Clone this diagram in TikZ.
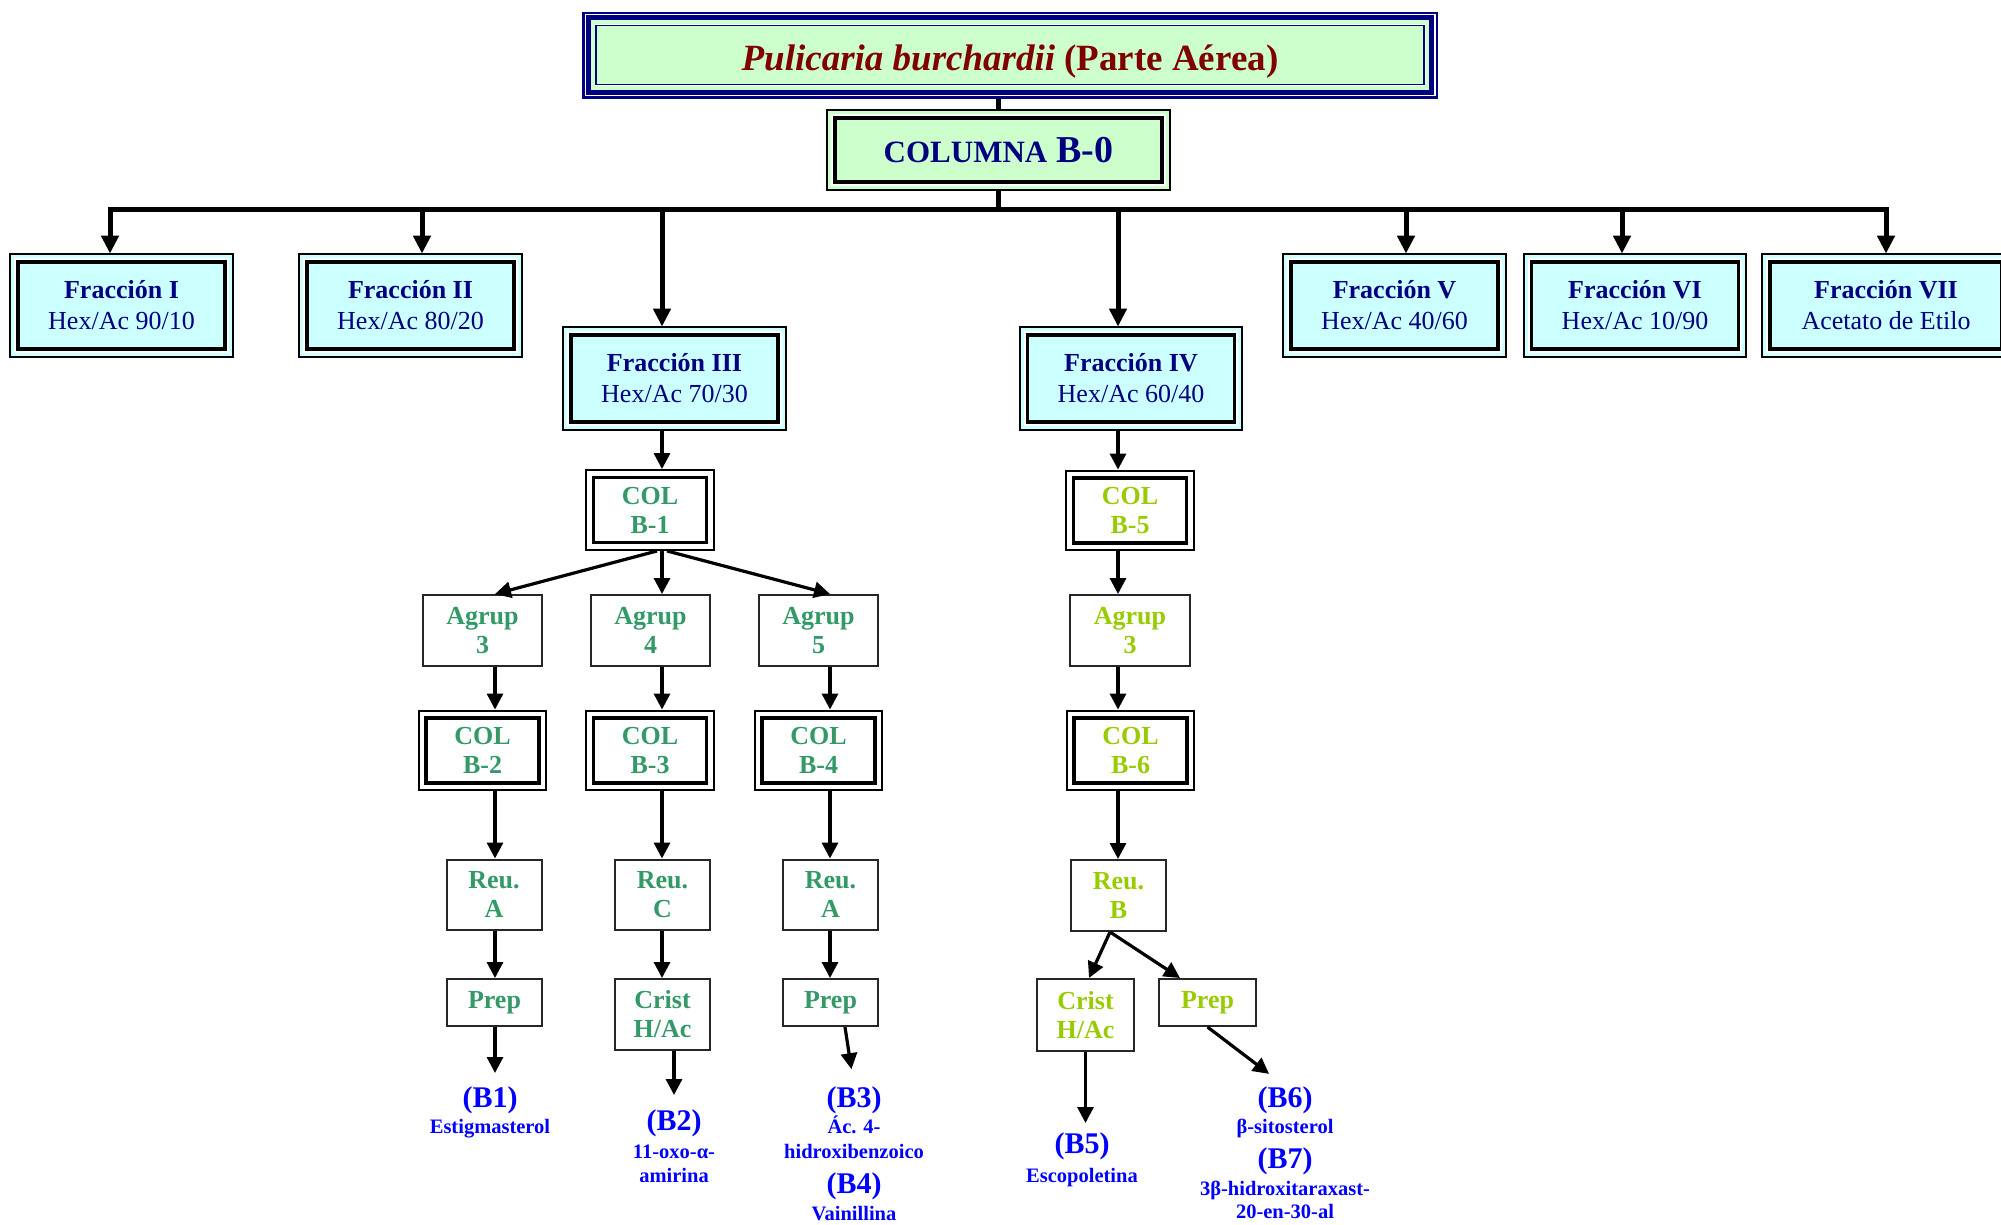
\documentclass[tikz,border=0pt]{standalone}
\usepackage{fontspec}
\setmainfont{Liberation Serif}
\usetikzlibrary{arrows.meta}
\definecolor{navyc}{HTML}{000080}
\definecolor{dred}{HTML}{800000}
\definecolor{lgreen}{HTML}{CCFFCC}
\definecolor{lcyan}{HTML}{CCFFFF}
\definecolor{sgreen}{HTML}{339966}
\definecolor{ygreen}{HTML}{99CC00}
\definecolor{lblue}{HTML}{0000FF}
\newcommand\outframe[3]{\draw[#3] ([shift={(-#2,#2)}]#1.north west) rectangle ([shift={(#2,-#2)}]#1.south east);}
\tikzset{
  sbox/.style={draw=black!85, line width=2pt, fill=white, inner sep=0pt, align=center,
    font=\bfseries\fontsize{26}{29}\selectfont},
  frac/.style={draw=black, line width=3.8pt, fill=lcyan, inner sep=0pt, align=center,
    text=navyc, minimum width=207pt, minimum height=87pt, font=\fontsize{26}{31}\selectfont},
  colb/.style={draw=black, line width=3.5pt, fill=white, inner sep=0pt, align=center,
    font=\bfseries\fontsize{26}{29}\selectfont, minimum width=113pt, minimum height=65pt},
  arr/.style={line width=3.2pt, -{Triangle[width=16pt,length=16pt]}},
  toparr/.style={line width=5pt, -{Triangle[width=17pt,length=18pt]}, shorten >=6.5pt},
  bar/.style={line width=5pt},
  lab/.style={inner sep=0pt, text=lblue, font=\bfseries\fontsize{30}{30}\selectfont, anchor=base},
  sub/.style={inner sep=0pt, text=lblue, font=\bfseries\fontsize{20.5}{20.5}\selectfont, anchor=base},
}
\begin{document}
\begin{tikzpicture}[x=1pt,y=-1pt]
\useasboundingbox (0,0) rectangle (2001,1224);
% title and column
\node[draw=navyc, line width=1.5pt, fill=lgreen, inner sep=0pt, minimum width=828pt, minimum height=59pt,
  text height=30pt, text depth=0pt,
  text=dred, font=\bfseries\fontsize{37}{40}\selectfont] (t) at (1010,55)
  {\textit{Pulicaria burchardii} (Parte Aérea)};
\node[draw=black, line width=4pt, fill=lgreen, inner sep=0pt, minimum width=327pt, minimum height=64pt,
  text=navyc, font=\bfseries] (col0) at (998.5,150)
  {\raisebox{-2pt}{{\fontsize{31}{34}\selectfont COLUMNA}\hspace{9pt}{\fontsize{38}{40}\selectfont B-0}}};
% fractions
\node[frac] (f1) at (121.5,305.5) {{\bfseries Fracción I}\\Hex/Ac 90/10};
\node[frac] (f2) at (410.5,305.5) {{\bfseries Fracción II}\\Hex/Ac 80/20};
\node[frac] (f3) at (674.5,378.5) {{\bfseries Fracción III}\\Hex/Ac 70/30};
\node[frac] (f4) at (1131,378.5) {{\bfseries Fracción IV}\\Hex/Ac 60/40};
\node[frac] (f5) at (1394.5,305.5) {{\bfseries Fracción V}\\Hex/Ac 40/60};
\node[frac] (f6) at (1635,305.5) {{\bfseries Fracción VI}\\Hex/Ac 10/90};
\node[frac, minimum width=232pt] (f7) at (1886,305.5) {{\bfseries Fracción VII}\\Acetato de Etilo};
% left branch (fraction III)
\node[colb, text=sgreen] (c1) at (650,510) {COL\\B-1};
\node[sbox, text=sgreen, minimum width=119pt, minimum height=71pt] (g3) at (482.5,630.5) {Agrup\\3};
\node[sbox, text=sgreen, minimum width=119pt, minimum height=71pt] (g4) at (650.5,630.5) {Agrup\\4};
\node[sbox, text=sgreen, minimum width=119pt, minimum height=71pt] (g5) at (818.5,630.5) {Agrup\\5};
\node[colb, text=sgreen] (cb2) at (482.5,750.5) {COL\\B-2};
\node[colb, text=sgreen] (cb3) at (650,750.5) {COL\\B-3};
\node[colb, text=sgreen] (cb4) at (818.5,750.5) {COL\\B-4};
\node[sbox, text=sgreen, minimum width=95pt, minimum height=70pt] (ra) at (494,894.5) {Reu.\\A};
\node[sbox, text=sgreen, minimum width=95pt, minimum height=70pt] (rc) at (662.5,894.5) {Reu.\\C};
\node[sbox, text=sgreen, minimum width=95pt, minimum height=70pt] (ra2) at (830.5,894.5) {Reu.\\A};
\node[sbox, text=sgreen, minimum width=95pt, minimum height=47pt] (pa) at (494.5,1002.5) {Prep};
\node[sbox, text=sgreen, minimum width=95pt, minimum height=71pt] (cr) at (662.5,1014.5) {Crist\\H/Ac};
\node[sbox, text=sgreen, minimum width=95pt, minimum height=47pt] (pa2) at (830.5,1002.5) {Prep};
% right branch (fraction IV)
\node[colb, text=ygreen] (c5) at (1130,510.5) {COL\\B-5};
\node[sbox, text=ygreen, minimum width=120pt, minimum height=71pt] (gr) at (1130,630.5) {Agrup\\3};
\node[colb, text=ygreen] (c6) at (1130.5,750.5) {COL\\B-6};
\node[sbox, text=ygreen, minimum width=95pt, minimum height=71pt] (rb) at (1118.5,895.5) {Reu.\\B};
\node[sbox, text=ygreen, minimum width=97pt, minimum height=72pt] (cr2) at (1085.5,1015) {Crist\\H/Ac};
\node[sbox, text=ygreen, minimum width=97pt, minimum height=47pt] (pr2) at (1207.5,1002.5) {Prep};
% compounds
\node[lab] (b1) at (490,1107) {(B1)};
\node[sub] (b1a) at (490,1133) {Estigmasterol};
\node[lab] (b2) at (674,1130) {(B2)};
\node[sub] (b2a) at (674,1158) {11-oxo-α-};
\node[sub] (b2b) at (674,1182) {amirina};
\node[lab] (b3) at (854,1107) {(B3)};
\node[sub] (b3a) at (854,1133) {Ác. 4-};
\node[sub] (b3b) at (854,1158) {hidroxibenzoico};
\node[lab] (b4) at (854,1193) {(B4)};
\node[sub] (b4a) at (854,1220) {Vainillina};
\node[lab] (b5) at (1082,1153) {(B5)};
\node[sub] (b5a) at (1082,1182) {Escopoletina};
\node[lab] (b6) at (1285,1107) {(B6)};
\node[sub] (b6a) at (1285,1133) {β-sitosterol};
\node[lab] (b7) at (1285,1168) {(B7)};
\node[sub] (b7a) at (1285,1195) {3β-hidroxitaraxast-};
\node[sub] (b7b) at (1285,1218) {20-en-30-al};
% coordinates
\coordinate (m) at (998.5,209);
\coordinate (a1) at (110,209);
\coordinate (a2) at (422,209);
\coordinate (a3) at (662,209);
\coordinate (a4) at (1118,209);
\coordinate (a5) at (1406,209);
\coordinate (a6) at (1622,209);
\coordinate (a7) at (1886,209);
\coordinate (xl) at (495,0);
\coordinate (xr) at (830,0);
% top connectors
\draw[bar, shorten <=13pt, shorten >=7pt] (t.south -| col0.south) -- (col0.north);
\draw[bar, shorten <=7pt] (col0.south) -- (m);
\draw[bar, line cap=rect] (a1) -- (a7);
\draw[toparr] (a1) -- (a1 |- f1.north);
\draw[toparr] (a2) -- (a2 |- f2.north);
\draw[toparr] (a3) -- (a3 |- f3.north);
\draw[toparr] (a4) -- (a4 |- f4.north);
\draw[toparr] (a5) -- (a5 |- f5.north);
\draw[toparr] (a6) -- (a6 |- f6.north);
\draw[toparr] (a7) -- (a7 |- f7.north);
% left branch connectors
\draw[arr, shorten <=7pt, shorten >=6.7pt] (f3.south -| a3) -- (c1.north -| a3);
\draw[arr] ([xshift=7pt,yshift=-6.7pt]c1.south) -- (g3.north -| xl);
\draw[arr, shorten <=6.7pt] (c1.south -| a3) -- (g4.north -| a3);
\draw[arr] ([xshift=17pt,yshift=-6.7pt]c1.south) -- (g5.north -| xr);
\draw[arr, shorten >=6.7pt] (g3.south -| xl) -- (cb2.north -| xl);
\draw[arr, shorten >=6.7pt] (g4.south -| a3) -- (cb3.north -| a3);
\draw[arr, shorten >=6.7pt] (g5.south -| xr) -- (cb4.north -| xr);
\draw[arr, shorten <=6.7pt] (cb2.south -| xl) -- (ra.north -| xl);
\draw[arr, shorten <=6.7pt] (cb3.south -| a3) -- (rc.north -| a3);
\draw[arr, shorten <=6.7pt] (cb4.south -| xr) -- (ra2.north -| xr);
\draw[arr] (ra.south -| xl) -- (pa.north -| xl);
\draw[arr] (rc.south -| a3) -- (cr.north -| a3);
\draw[arr] (ra2.south -| xr) -- (pa2.north -| xr);
\draw[arr, shorten >=13pt] (pa.south -| xl) -- (b1.north -| xl);
\draw[arr, shorten >=14pt] (cr.south -| b2) -- (b2.north);
\draw[arr, shorten >=17pt] ([xshift=14.5pt]pa2.south) -- (b3.north);
% right branch connectors
\draw[arr, shorten <=7pt, shorten >=6.7pt] (f4.south -| a4) -- (c5.north -| a4);
\draw[arr, shorten <=6.7pt] (c5.south -| a4) -- (gr.north -| a4);
\draw[arr, shorten >=6.7pt] (gr.south -| a4) -- (c6.north -| a4);
\draw[arr, shorten <=6.7pt] (c6.south -| a4) -- (rb.north -| a4);
\draw[arr] ([xshift=-8.5pt]rb.south) -- ([xshift=3.5pt]cr2.north);
\draw[arr] ([xshift=-8.5pt]rb.south) -- ([xshift=-27.5pt]pr2.north);
\draw[arr, shorten >=9pt] (cr2.south) -- (cr2.south |- b5.north);
\draw[arr, shorten >=20pt] (pr2.south) -- (b6.north);
% frames
\outframe{t}{2.75pt}{lgreen, line width=4pt}
\outframe{t}{7pt}{navyc, line width=5pt}
\outframe{t}{12pt}{navyc, line width=2.5pt}
\outframe{col0}{3.5pt}{lgreen, line width=3pt}
\outframe{col0}{6pt}{black, line width=2pt}
\foreach \n in {f1,f2,f3,f4,f5,f6,f7} {
  \outframe{\n}{3.5pt}{lcyan, line width=3pt}
  \outframe{\n}{6pt}{black, line width=2pt}
}
\foreach \n in {c1,cb2,cb3,cb4,c5,c6} {
  \outframe{\n}{5.7pt}{black, line width=2pt}
}
\end{tikzpicture}
\end{document}
